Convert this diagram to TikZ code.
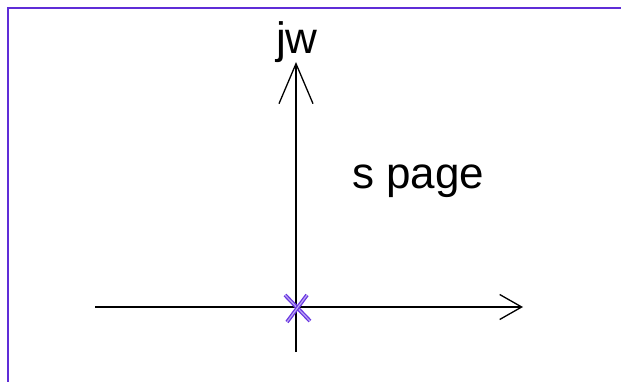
\documentclass[tikz,border=0pt]{standalone}
\usepackage{fontspec}
\setmainfont{Liberation Sans}
\usetikzlibrary{arrows.meta,positioning,calc}

\definecolor{framepurple}{RGB}{95,45,215}
\definecolor{polepurple}{RGB}{105,55,225}

\begin{document}
\begin{tikzpicture}[
    x=1pt, y=-1pt,
    axis/.style={draw=black, line width=1.3pt},
    vtip/.style={-{Straight Barb[length=40pt, width=34pt, line width=1.3pt]}},
    htip/.style={-{Straight Barb[length=22pt, width=25pt, line width=1.3pt]}},
    frame/.style={draw=framepurple, line width=2.6pt},
    pole/.style={draw=polepurple, line width=1.3pt, double=polepurple!45, double distance=1.2pt},
    label_text/.style={font=\fontsize{44}{50}\selectfont, inner sep=0pt}
]
    \useasboundingbox (0,0) rectangle (621,382);

    % Frame (top and left edge only)
    \draw[frame] (8,382) -- (8,8) -- (621,8);

    % Axis points
    \coordinate (origin) at (296,307);
    \coordinate (ytop) at (296,62);
    \coordinate (ybottom) at (296,352);
    \coordinate (xleft) at (95,307);
    \coordinate (xright) at (523,307);

    % Axes
    \draw[axis, vtip] (ybottom) -- (ytop);
    \draw[axis, htip] (xleft) -- (xright);

    % Pole at the origin
    \draw[pole] ($(origin)+(-11,-12)$) -- ($(origin)+(14,14)$);
    \draw[pole] ($(origin)+(11,-12)$) -- ($(origin)+(-9,15)$);

    % Labels
    \node[label_text, anchor=base] (jwlabel) at (297,54) {jw};
    \node[label_text, anchor=base west] (plane) at (352,189) {s page};

\end{tikzpicture}
\end{document}
